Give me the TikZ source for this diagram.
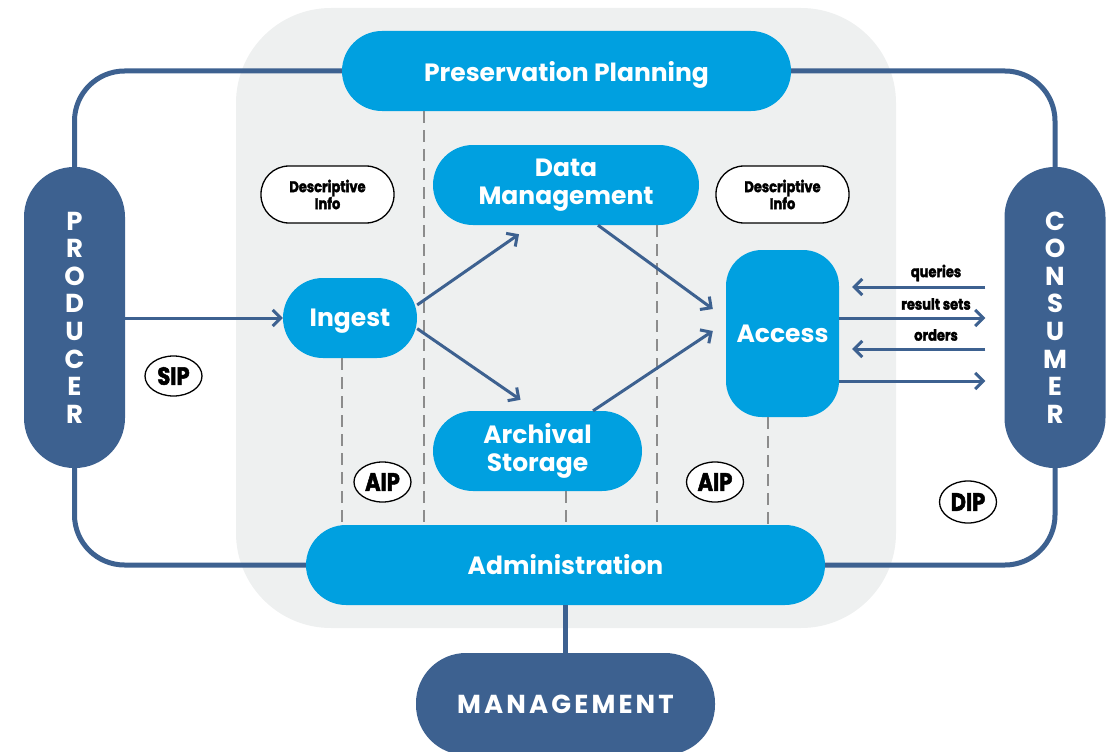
\documentclass[tikz,border=0pt]{standalone}
\usepackage{fontspec}
\setmainfont{Poppins}
\newfontfamily\condfont{Poppins}[FakeStretch=0.84,FakeBold=2]
\newfontfamily\spacedfont{Poppins}[LetterSpace=12]
\usetikzlibrary{arrows.meta,calc,shapes.geometric}
\definecolor{lblue}{HTML}{00A0E0}
\definecolor{dblue}{HTML}{3D6190}
\definecolor{bggray}{HTML}{EEF0F0}
\definecolor{dashgray}{HTML}{8C8C8C}
\tikzset{
  pill/.style={fill=lblue, text=white, font=\bfseries\fontsize{25}{28}\selectfont,
    align=center, inner sep=0pt, rounded corners=40pt},
  actor/.style={fill=dblue, text=white, align=center, inner sep=0pt, rounded corners=50pt,
    font=\spacedfont\bfseries\fontsize{26}{27.6}\selectfont},
  infobox/.style={draw=black, line width=1.3pt, fill=white, rounded corners=28pt,
    minimum width=133pt, minimum height=57pt, inner sep=0pt, align=center,
    font=\condfont\bfseries\fontsize{15.5}{17}\selectfont},
  pkg/.style={ellipse, draw=black, line width=1.3pt, fill=white, inner sep=0pt,
    minimum width=57pt, minimum height=40pt, font=\condfont\bfseries\fontsize{25}{26}\selectfont},
  lbl/.style={inner sep=0pt, font=\condfont\bfseries\fontsize{15.5}{16}\selectfont},
  loopl/.style={draw=dblue, line width=5pt, rounded corners=50pt},
  dashl/.style={draw=dashgray, line width=1.3pt, dash pattern=on 12pt off 7pt},
  flow/.style={draw=dblue, line width=3pt, -{Straight Barb[length=8pt,width=16pt]}}
}
\begin{document}
\begin{tikzpicture}[x=1pt,y=-1pt]
\useasboundingbox (0,0) rectangle (1117,752);
% background panel
\fill[bggray, rounded corners=95pt] (236,8) rectangle (896,628);

% functional entities
\node[pill, minimum width=449pt, minimum height=80pt, text depth=0pt] (pp) at (566.5,71) {Preservation Planning};
\node[pill, minimum width=266pt, minimum height=80pt] (dm) at (566,185) {Data\\Management};
\node[pill, minimum width=134pt, minimum height=80pt, text depth=0pt] (ing) at (350,318) {Ingest};
\node[pill, minimum width=209pt, minimum height=80pt] (as) at (537.5,451) {Archival\\Storage};
\node[pill, rounded corners=36pt, minimum width=113pt, minimum height=167pt] (acc) at (782.5,333.5) {Access};
\node[pill, minimum width=519pt, minimum height=80pt] (adm) at (565.5,565) {Administration};

% actors
\node[actor, minimum width=299pt, minimum height=102pt, font=\spacedfont\bfseries\fontsize{26}{28}\selectfont] (mgmt) at (565.5,704) {MANAGEMENT};
\node[actor, minimum width=101pt, minimum height=301pt] (prod) at (74.5,317.5) {P\\R\\O\\D\\U\\C\\E\\R};
\node[actor, minimum width=101pt, minimum height=301pt] (con) at (1055,317.5) {C\\O\\N\\S\\U\\M\\E\\R};

% information objects
\node[infobox] (di1) at (327.5,194.5) {Descriptive\\Info};
\node[infobox] (di2) at (782.5,194.5) {Descriptive\\Info};
\node[pkg] (sip) at (173.5,376) {SIP};
\node[pkg] (aip1) at (382.5,482) {AIP};
\node[pkg] (aip2) at (715,482) {AIP};
\node[pkg, minimum height=42pt] (dip) at (968,502) {DIP};

% outer loop
\draw[loopl] (pp.west) -| (prod.north);
\draw[loopl] (prod.south) |- (adm.west);
\draw[loopl] (pp.east) -| (con.north);
\draw[loopl] (con.south) |- (adm.east);
\draw[draw=dblue, line width=5pt] (adm.south) -- (mgmt.north);

% dashed separators
\coordinate (x0) at (342,0);
\coordinate (x1) at (424,0);
\coordinate (x2) at (566,0);
\coordinate (x3) at (657,0);
\coordinate (x4) at (768,0);
\draw[dashl] (ing.south -| x0) -- (adm.north -| x0);
\draw[dashl] (pp.south -| x1) -- (adm.north -| x1);
\draw[dashl] (as.south -| x2) -- (adm.north -| x2);
\draw[dashl] (dm.south -| x3) -- (adm.north -| x3);
\draw[dashl] (acc.south -| x4) -- (adm.north -| x4);

% flows
\draw[flow] (prod.east |- ing.west) -- (ing.west);
\draw[flow] (ing.11) -- ($(dm.south)+(-47,9)$);
\draw[flow] (ing.-9) -- ($(as.north)+(-17,-11)$);
\draw[flow] ($(dm.south)+(32,0)$) -- ($(acc.west)+(-13,-24.5)$);
\draw[flow] ($(as.north)+(55.5,0)$) -- ($(acc.west)+(-13,-2.5)$);

\draw[flow] ($(acc.east -| con.west)+(-19,-46.5)$) -- ($(acc.east)+(13,-46.5)$);
\draw[flow] ($(acc.east)+(0,-15.5)$) -- ($(acc.east -| con.west)+(-19,-15.5)$);
\draw[flow] ($(acc.east -| con.west)+(-19,15.5)$) -- ($(acc.east)+(13,15.5)$);
\draw[flow] ($(acc.east)+(0,47.5)$) -- ($(acc.east -| con.west)+(-19,47.5)$);

\node[lbl] (lq) at (936,273) {queries};
\node[lbl] (lr) at (936,304) {result sets};
\node[lbl] (lo) at (936,335) {orders};
\end{tikzpicture}
\end{document}
